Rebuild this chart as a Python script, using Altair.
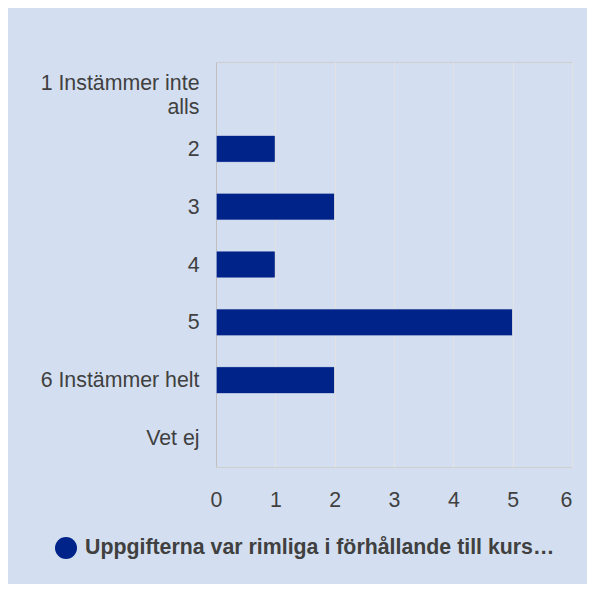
import altair as alt
import pandas as pd

categories = ["1 Instämmer inte alls", "2", "3", "4", "5", "6 Instämmer helt", "Vet ej"]
counts = [0, 1, 2, 1, 5, 2, 0]
series_name = "Uppgifterna var rimliga i förhållande till kurs…"
x_ticks = [0, 1, 2, 3, 4, 5, 6]

df = pd.DataFrame({"cat": categories, "n": counts, "series": [series_name] * len(categories)})

font = "Liberation Sans"
txt = "#404040"
fs = 21.33

chart = alt.Chart(df).mark_bar(
    stroke="white", strokeWidth=1, cornerRadius=2
).encode(
    y=alt.Y("cat:N", sort=categories, title=None,
            scale=alt.Scale(domain=categories, paddingInner=0.53, paddingOuter=0.265),
            axis=alt.Axis(
                labelExpr="datum.value == '1 Instämmer inte alls' ? ['1 Instämmer inte', 'alls'] : datum.value",
                labelOffset=alt.condition("datum.value == '1 Instämmer inte alls'", alt.value(-7), alt.value(1)),
                labelFontSize=fs, labelColor=txt, labelFont=font, ticks=False,
                labelPadding=17, labelLimit=300, labelLineHeight=24,
                domainColor="#bfbfbf", grid=False)),
    x=alt.X("n:Q", title=None,
            scale=alt.Scale(domain=[0, 6], nice=False),
            axis=alt.Axis(values=x_ticks, labelFontSize=fs, labelColor=txt, labelFont=font,
                          ticks=False, domain=False, labelPadding=22, labelFlush=False,
                          labelOffset=alt.condition("datum.value == 6", alt.value(-6), alt.value(0)),
                          gridColor="#e2e2e2", gridWidth=1, format="d")),
    color=alt.Color("series:N", scale=alt.Scale(range=["#00238a"]),
                    legend=alt.Legend(title=None, orient="none", legendX=-161, legendY=475,
                                      symbolType="circle", symbolSize=484, symbolStrokeWidth=0,
                                      labelFontSize=fs, labelFontWeight="bold", labelFont=font,
                                      labelColor=txt, labelLimit=600, symbolOffset=0, padding=0,
                                      labelOffset=8)),
    strokeOpacity=alt.condition("datum.n > 0", alt.value(1), alt.value(0)),
).properties(
    width=356, height=405,
    background="#d3dff0",
    padding={"left": 208, "top": 54, "right": 15, "bottom": 117},
    autosize=alt.AutoSizeParams(type="none"),
).configure_view(stroke="#cfcfcf", strokeWidth=1)

chart.save("out.html", embed_options={"renderer": "svg", "actions": False})
